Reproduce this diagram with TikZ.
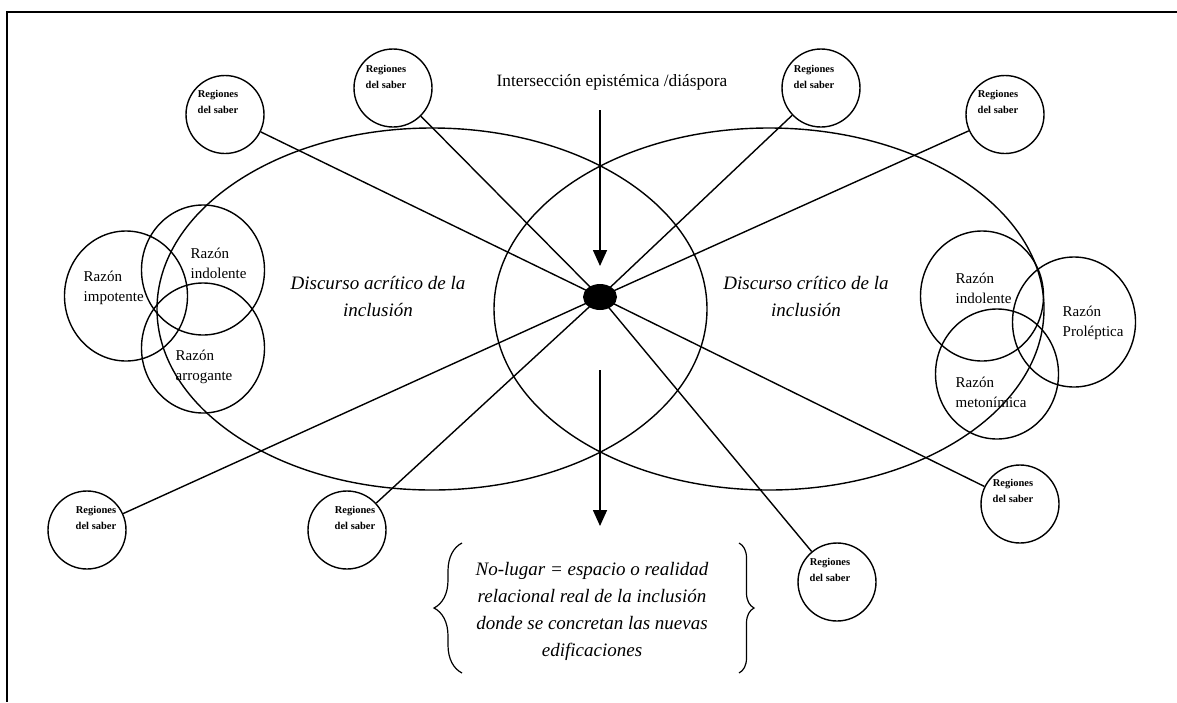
\documentclass[tikz,border=0pt]{standalone}
\usepackage{fontspec}
\setmainfont{Liberation Serif}
\usetikzlibrary{shapes.geometric,arrows.meta,decorations.pathreplacing}
\begin{document}
\begin{tikzpicture}[x=1pt,y=-1pt,line width=1.4pt,
  bigell/.style={draw,ellipse,minimum width=550pt,minimum height=362pt,inner sep=0pt},
  razon/.style={draw,ellipse,minimum width=123pt,minimum height=130pt,inner sep=0pt},
  regc/.style={draw,circle,minimum size=78pt,inner sep=0pt},
  regt/.style={font=\fontsize{10.5}{16}\selectfont\bfseries,align=center,inner sep=0pt},
  razt/.style={font=\fontsize{15}{20}\selectfont,align=left,inner sep=0pt,anchor=west},
  disc/.style={font=\fontsize{19}{27}\selectfont\itshape,align=center,inner sep=0pt},
  conn/.style={line width=1.4pt},
  arrowline/.style={line width=1.6pt,-{Triangle[length=16pt,width=14pt]}},
  dotst/.style={ellipse,fill=black,minimum width=34pt,minimum height=26pt,inner sep=0pt},
  bracest/.style={line width=1.2pt,decorate}
]
\useasboundingbox (0,0) rectangle (1177,702);
\fill[white] (0,0) rectangle (1177,702);
% frame
\draw[line width=2pt] (1177,12) -- (7,12) -- (7,702);

% big ellipses
\node[bigell] (le) at (432,309) {};
\node[bigell] (re) at (769,309) {};

% razon circles left
\node[razon] (zimp) at (126,296) {};
\node[razon] (zind) at (203,270) {};
\node[razon] (zarr) at (203,348) {};
% razon circles right
\node[razon] (zindr) at (982,296) {};
\node[razon] (zpro) at (1074,322) {};
\node[razon] (zmet) at (997,374) {};

\node[razt] (timp) at (83,288) {Razón\\impotente};
\node[razt] (tind) at (190,263) {Razón\\indolente};
\node[razt] (tarr) at (175,367) {Razón\\arrogante};
\node[razt] (tindr) at (955,288) {Razón\\indolente};
\node[razt] (tpro) at (1062,323) {Razón\\Proléptica};
\node[razt] (tmet) at (955,392) {Razón\\metonímica};

% discourse labels
\node[disc] (dacr) at (378,297) {Discurso acrítico de la\\inclusión};
\node[disc] (dcri) at (806,297) {Discurso crítico de la\\inclusión};

% title
\node[font=\fontsize{17.3}{20}\selectfont,inner sep=0pt] (title) at (612,82) {Intersección epistémica /diáspora};

% regiones del saber
\node[regc] (r1) at (225,114.5) {};
\node[regc] (r2) at (393,88) {};
\node[regc] (r3) at (821,88) {};
\node[regc] (r4) at (1005,114.5) {};
\node[regc] (r5) at (1020,504) {};
\node[regc] (r6) at (837,582) {};
\node[regc] (r7) at (87,530) {};
\node[regc] (r8) at (347,530) {};
\node[regt] (t1) at (218,102) {Regiones\\del saber};
\node[regt] (t2) at (386,77) {Regiones\\del saber};
\node[regt] (t3) at (814,77) {Regiones\\del saber};
\node[regt] (t4) at (998,102) {Regiones\\del saber};
\node[regt] (t5) at (1013,491) {Regiones\\del saber};
\node[regt] (t6) at (830,570) {Regiones\\del saber};
\node[regt] (t7) at (96,518) {Regiones\\del saber};
\node[regt] (t8) at (355,518) {Regiones\\del saber};

% central dot and spokes
\node[dotst] (dot) at (600,297) {};
\foreach \r in {r1,r2,r3,r4,r5,r6,r7,r8}
  \draw[conn] (dot.center) -- (\r);

% arrows
\coordinate (a1s) at (600,110);
\coordinate (a1e) at (600,266);
\coordinate (a2s) at (600,370);
\coordinate (a2e) at (600,526);
\draw[arrowline] (a1s) -- (a1e);
\draw[arrowline] (a2s) -- (a2e);

% no-lugar text and braces
\node[disc] (nol) at (592,611) {No-lugar = espacio o realidad\\relacional real de la inclusión\\donde se concretan las nuevas\\edificaciones};
\coordinate (b1a) at (462,673);
\coordinate (b1b) at (462,543);
\coordinate (b2a) at (739,543);
\coordinate (b2b) at (739,673);
\draw[bracest,decoration={brace,amplitude=28pt}] (b1a) -- (b1b);
\draw[bracest,decoration={brace,amplitude=15pt}] (b2a) -- (b2b);
\end{tikzpicture}
\end{document}
